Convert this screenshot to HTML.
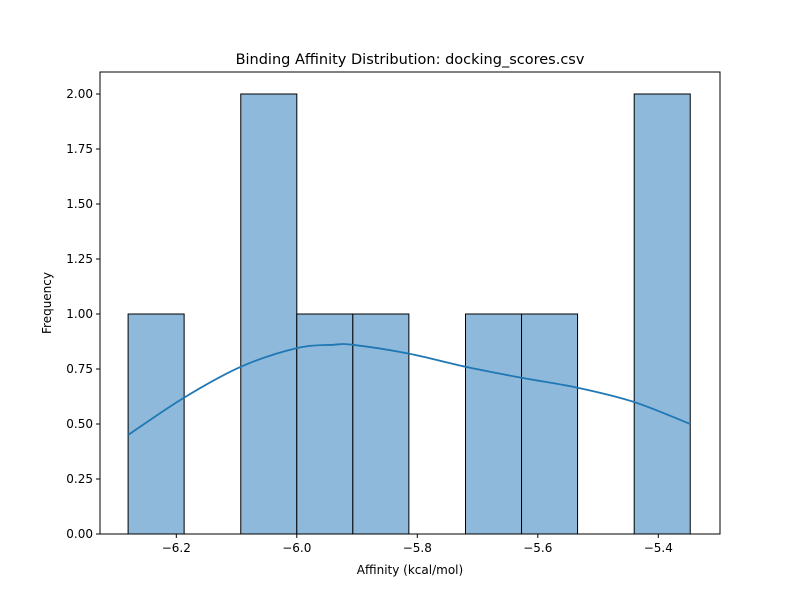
<!DOCTYPE html>
<html><head><meta charset="utf-8"><style>
body{margin:0;background:#fff;}
text{font-family:"DejaVu Sans","Liberation Sans",sans-serif;}
</style></head><body>
<svg id="chart" width="800" height="600" xmlns="http://www.w3.org/2000/svg"></svg>
<script>
const binEdges=[-6.280,-6.187,-6.093,-6.000,-5.907,-5.814,-5.720,-5.627,-5.534,-5.440,-5.347];
const counts=[1,0,2,1,1,0,1,1,0,2];
const kdeX=[-6.280,-6.187,-6.093,-6.000,-5.94,-5.907,-5.814,-5.720,-5.627,-5.534,-5.440,-5.347];
const kdeY=[0.45,0.62,0.76,0.845,0.86,0.86,0.82,0.76,0.71,0.665,0.60,0.50];
const xTicks=[-6.2,-6.0,-5.8,-5.6,-5.4];
const xTickLabels=["−6.2","−6.0","−5.8","−5.6","−5.4"];
const yTicks=[0,0.25,0.5,0.75,1,1.25,1.5,1.75,2];
const yTickLabels=["0.00","0.25","0.50","0.75","1.00","1.25","1.50","1.75","2.00"];
const L=100,R=720,T=72,B=534;
const xs=v=>296.8+(v+6.0)*602.5;
const ys=v=>B-v*220;
const svg=document.getElementById('chart');
const NS='http://www.w3.org/2000/svg';
function mk(tag,attrs,parent){const e=document.createElementNS(NS,tag);for(const k in attrs)e.setAttribute(k,attrs[k]);(parent||svg).appendChild(e);return e;}
for(let i=0;i<counts.length;i++){
  if(counts[i]===0)continue;
  const x0=xs(binEdges[i]),x1=xs(binEdges[i+1]);
  const r=mk('rect',{x:x0,y:ys(counts[i]),width:x1-x0,height:ys(0)-ys(counts[i]),fill:'#8eb9da',stroke:'#000','stroke-width':1});
  
  
}
let d='';
const px=kdeX.map(xs),py=kdeY.map(ys);
d='M'+px[0]+','+py[0];
for(let i=0;i<px.length-1;i++){
  const p0=i>0?[px[i-1],py[i-1]]:[px[i],py[i]],p1=[px[i],py[i]],p2=[px[i+1],py[i+1]],p3=i+2<px.length?[px[i+2],py[i+2]]:p2;
  d+=' C'+(p1[0]+(p2[0]-p0[0])/6)+','+(p1[1]+(p2[1]-p0[1])/6)+' '+(p2[0]-(p3[0]-p1[0])/6)+','+(p2[1]-(p3[1]-p1[1])/6)+' '+p2[0]+','+p2[1];
}
const kde=mk('path',{d:d,fill:'none',stroke:'#1f77b4','stroke-width':1.8});


const frame=mk('rect',{x:L,y:T,width:R-L,height:B-T,fill:'none',stroke:'#000','stroke-width':1});


xTicks.forEach((v,i)=>{
  const x=xs(v);
  mk('line',{x1:x,x2:x,y1:B,y2:B+4,stroke:'#000'});
  const t=mk('text',{x:x,y:B+18,'font-size':12,'text-anchor':'middle'});t.textContent=xTickLabels[i];
  
  
});
yTicks.forEach((v,i)=>{
  const y=ys(v);
  mk('line',{x1:L-4,x2:L,y1:y,y2:y,stroke:'#000'});
  const t=mk('text',{x:L-7,y:y+4,'font-size':12,'text-anchor':'end'});t.textContent=yTickLabels[i];
  
  
});
const ti=mk('text',{x:410,y:64,'font-size':14.5,'text-anchor':'middle'});ti.textContent='Binding Affinity Distribution: docking_scores.csv';


const xl=mk('text',{x:410,y:574,'font-size':12,'text-anchor':'middle'});xl.textContent='Affinity (kcal/mol)';


const yl=mk('text',{x:51,y:303,'font-size':12,'text-anchor':'middle',transform:'rotate(-90 51 303)'});yl.textContent='Frequency';


</script>
</body></html>
